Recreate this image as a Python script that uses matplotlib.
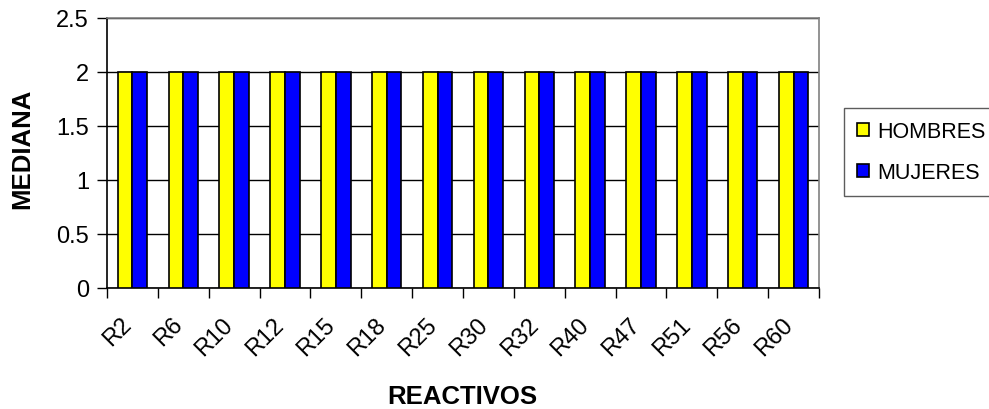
import matplotlib
matplotlib.use("Agg")
import matplotlib.pyplot as plt
import matplotlib.transforms as mtransforms
import numpy as np

categories = ["R2", "R6", "R10", "R12", "R15", "R18", "R25", "R30", "R32",
              "R40", "R47", "R51", "R56", "R60"]
hombres = [2, 2, 2, 2, 2, 2, 2, 2, 2, 2, 2, 2, 2, 2]
mujeres = [2, 2, 2, 2, 2, 2, 2, 2, 2, 2, 2, 2, 2, 2]
y_ticks = [0, 0.5, 1, 1.5, 2, 2.5]
y_tick_labels = ["0", "0.5", "1", "1.5", "2", "2.5"]

plt.rcParams["font.family"] = ["Liberation Sans", "DejaVu Sans"]

fig = plt.figure(figsize=(9.89, 4.10), dpi=100)
ax = fig.add_axes([107 / 989, 1 - 289 / 410, (819 - 107) / 989, (289 - 19) / 410])

x = np.arange(len(categories))
w = 0.29
ax.bar(x - w / 2, hombres, w, color="#FFFF00", edgecolor="black", linewidth=1.2,
       label="HOMBRES", zorder=3)
ax.bar(x + w / 2, mujeres, w, color="#0000FF", edgecolor="black", linewidth=1.2,
       label="MUJERES", zorder=3)

ax.set_xlim(-0.5, len(categories) - 0.5)
ax.set_ylim(0, 2.5)
ax.set_yticks(y_ticks)
ax.set_yticklabels(y_tick_labels, fontsize=17)
ax.yaxis.grid(True, color="black", linewidth=1)
ax.set_axisbelow(True)

# category boundaries carry the tick marks, centers carry the labels
ax.set_xticks(np.arange(-0.5, len(categories), 1.0))
ax.set_xticklabels([])
ax.set_xticks(x, minor=True)
ax.set_xticklabels(categories, minor=True, rotation=45, ha="right", va="top",
                   rotation_mode="anchor", fontsize=17)
ax.tick_params(axis="x", which="minor", length=0, pad=18)
ax.tick_params(axis="x", which="major", length=7, width=1, direction="out")
ax.tick_params(axis="y", length=7, width=1, direction="out", pad=6)

shift = mtransforms.ScaledTranslation(-12 / 100, 0, fig.dpi_scale_trans)
for lbl in ax.get_xticklabels(minor=True):
    lbl.set_transform(lbl.get_transform() + shift)

for s in ["top", "right"]:
    ax.spines[s].set_color("#808080")
    ax.spines[s].set_linewidth(1.2)
for s in ["left", "bottom"]:
    ax.spines[s].set_color("black")
    ax.spines[s].set_linewidth(1.2)

fig.text(22 / 989, 1 - 149 / 410, "MEDIANA", rotation=90, fontsize=18.5,
         fontweight="bold", ha="center", va="center")
fig.text(462 / 989, 1 - 397 / 410, "REACTIVOS", fontsize=18.5,
         fontweight="bold", ha="center", va="center")

leg = fig.legend(loc="upper left", bbox_to_anchor=(844 / 989, 1 - 109 / 410),
                 fontsize=15.5, frameon=True, fancybox=False, edgecolor="#333333",
                 handlelength=0.55, handleheight=0.55, handletextpad=0.4,
                 labelspacing=0.95, borderpad=0.6, borderaxespad=0)
leg.get_frame().set_linewidth(1)

fig.savefig("out.png", dpi=100)
